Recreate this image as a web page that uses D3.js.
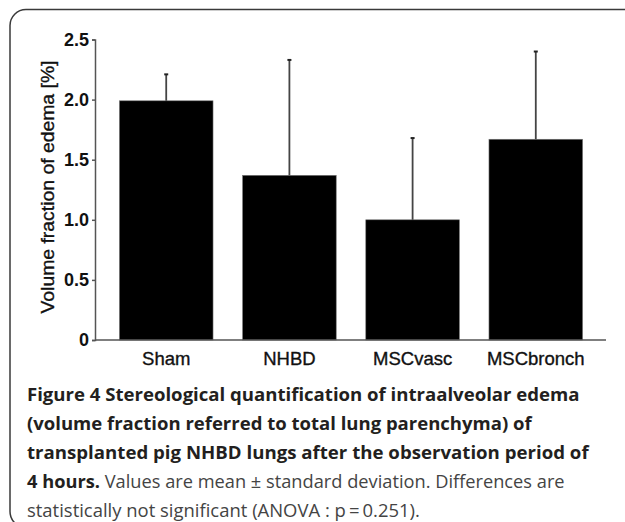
<!DOCTYPE html>
<meta charset="utf-8">
<script src="https://cdn.jsdelivr.net/npm/d3@7"></script>
<style>
  body { margin: 0; background: #fff; }
</style>
<div id="chart"></div>
<script>

// data
var groups = ["Sham", "NHBD", "MSCvasc", "MSCbronch"];
var means  = [1.99, 1.37, 1.00, 1.67];
var sds    = [0.22, 0.96, 0.68, 0.73];
var yTicks = [0, 0.5, 1.0, 1.5, 2.0, 2.5];
var yTickLabels = ["0", "0.5", "1.0", "1.5", "2.0", "2.5"];
var yTitle = "Volume fraction of edema [%]";

// caption: [bold part, regular part]
var captionLines = [
  ["Figure 4 Stereological quantification of intraalveolar edema", ""],
  ["(volume fraction referred to total lung parenchyma) of", ""],
  ["transplanted pig NHBD lungs after the observation period of", ""],
  ["4 hours.", " Values are mean \u00b1 standard deviation. Differences are"],
  ["", "statistically not significant (ANOVA : p\u2009=\u20090.251)."]
];
var captionWidths = [553, 505, 562, 538, 393];

var W = 625, H = 522;

var svg = d3.select("#chart").append("svg")
    .attr("width", W)
    .attr("height", H);

// rounded frame (runs off the right edge)
svg.append("rect")
    .attr("x", 10).attr("y", 9.5)
    .attr("width", 700).attr("height", 518)
    .attr("rx", 16).attr("ry", 16)
    .attr("fill", "none")
    .attr("stroke", "#3a3a3a")
    .attr("stroke-width", 1.5);

// scales
var x = d3.scaleBand()
    .domain(groups)
    .range([96, 606])
    .paddingInner(0.24)
    .paddingOuter(0.19);

var y = d3.scaleLinear()
    .domain([0, 2.5])
    .range([340, 39.5]);

// bars
svg.append("g")
  .selectAll("rect")
  .data(groups)
  .enter().append("rect")
    .attr("x", function(d) { return x(d); })
    .attr("y", function(d, i) { return y(means[i]); })
    .attr("width", x.bandwidth())
    .attr("height", function(d, i) { return y(0) - y(means[i]); })
    .attr("fill", "#000")
    .attr("stroke", "#777")
    .attr("stroke-width", 0.6);

// error bars (upper only)
var err = svg.append("g");
err.selectAll("line.v")
  .data(groups)
  .enter().append("line")
    .attr("class", "v")
    .attr("x1", function(d) { return x(d) + x.bandwidth() / 2; })
    .attr("x2", function(d) { return x(d) + x.bandwidth() / 2; })
    .attr("y1", function(d, i) { return y(means[i]); })
    .attr("y2", function(d, i) { return y(means[i] + sds[i]); })
    .attr("stroke", "#444")
    .attr("stroke-width", 1.8);
err.selectAll("line.c")
  .data(groups)
  .enter().append("line")
    .attr("class", "c")
    .attr("x1", function(d) { return x(d) + x.bandwidth() / 2 - 2; })
    .attr("x2", function(d) { return x(d) + x.bandwidth() / 2 + 2; })
    .attr("y1", function(d, i) { return y(means[i] + sds[i]); })
    .attr("y2", function(d, i) { return y(means[i] + sds[i]); })
    .attr("stroke", "#222")
    .attr("stroke-width", 2);

// Y axis
var yAxis = svg.append("g")
    .attr("transform", "translate(95,0)")
    .call(d3.axisLeft(y)
      .tickValues(yTicks)
      .tickFormat(function(d, i) { return yTickLabels[i]; })
      .tickSizeOuter(0)
      .tickSize(3)
      .tickPadding(3));
yAxis.select(".domain").attr("stroke", "#555").attr("stroke-width", 1.5);
yAxis.selectAll(".tick line").attr("stroke", "#555").attr("stroke-width", 1.5);
yAxis.selectAll(".tick text")
    .attr("fill", "#111")
    .style("font-family", "'Liberation Sans', Arial, sans-serif")
    .style("font-size", "18px")
    .style("font-weight", "bold");

// X axis
var xAxis = svg.append("g")
    .attr("transform", "translate(0,340)")
    .call(d3.axisBottom(x).tickSize(0).tickSizeOuter(0).tickPadding(12));
xAxis.select(".domain")
    .attr("d", "M95,0H606")
    .attr("stroke", "#555").attr("stroke-width", 1.5);
xAxis.selectAll(".tick text")
    .attr("fill", "#111")
    .attr("stroke", "#111")
    .attr("stroke-width", 0.35)
    .style("font-family", "'Liberation Sans', Arial, sans-serif")
    .style("font-size", "18.5px");

// Y axis title
var yt = svg.append("text")
    .attr("transform", "translate(54,187) rotate(-90)")
    .attr("text-anchor", "middle")
    .attr("fill", "#111")
    .attr("stroke", "#111")
    .attr("stroke-width", 0.35)
    .style("font-family", "'Liberation Sans', Arial, sans-serif")
    .style("font-size", "19px")
    .text(yTitle);
yt.attr("textLength", 253).attr("lengthAdjust", "spacingAndGlyphs");

// caption
var capY0 = 401, capStep = 29;
captionLines.forEach(function(parts, i) {
  var t = svg.append("text")
      .style("font-family", "'Open Sans', 'Noto Sans', sans-serif")
      .style("font-size", "18.5px");
  if (parts[0]) {
    t.append("tspan")
      .attr("font-weight", "bold")
      .attr("fill", "#231f20")
      .text(parts[0]);
  }
  if (parts[1]) {
    t.append("tspan")
      .attr("fill", "#444")
      .text(parts[1]);
  }
  var w = t.node().getComputedTextLength();
  var sx = captionWidths[i] / w;
  t.attr("transform", "translate(27," + (capY0 + i * capStep) + ") scale(" + sx + ",1)");
});

</script>
